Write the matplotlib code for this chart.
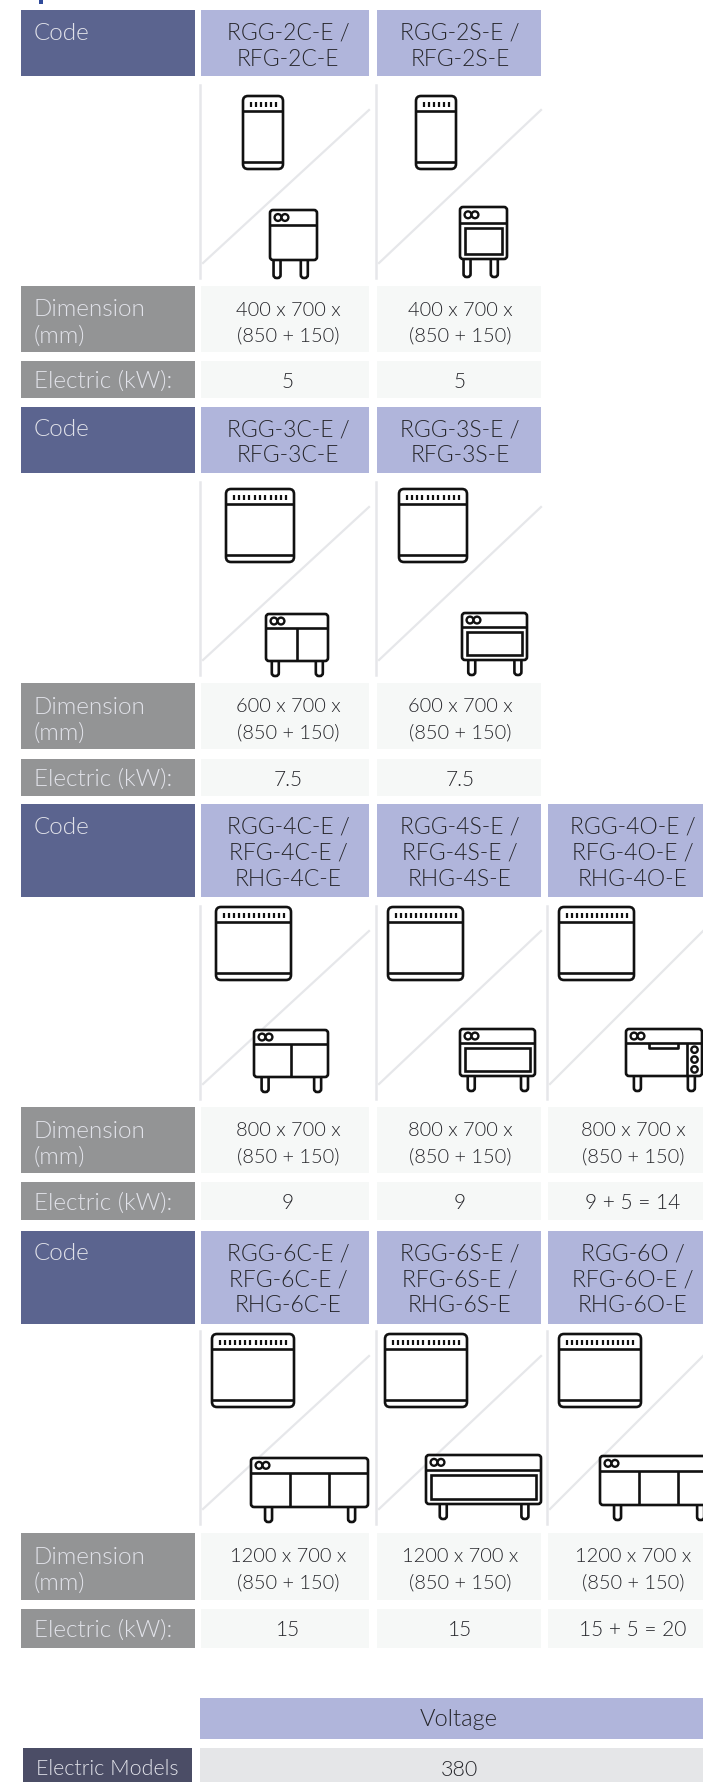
import matplotlib
matplotlib.use('Agg')
import matplotlib.pyplot as plt
from matplotlib import font_manager
from matplotlib.patches import Rectangle, FancyBboxPatch, Circle

# table contents, one list per block
codes_2 = [['RGG-2C-E /', 'RFG-2C-E'], ['RGG-2S-E /', 'RFG-2S-E']]
codes_3 = [['RGG-3C-E /', 'RFG-3C-E'], ['RGG-3S-E /', 'RFG-3S-E']]
codes_4 = [['RGG-4C-E /', 'RFG-4C-E /', 'RHG-4C-E'],
           ['RGG-4S-E /', 'RFG-4S-E /', 'RHG-4S-E'],
           ['RGG-4O-E /', 'RFG-4O-E /', 'RHG-4O-E']]
codes_6 = [['RGG-6C-E /', 'RFG-6C-E /', 'RHG-6C-E'],
           ['RGG-6S-E /', 'RFG-6S-E /', 'RHG-6S-E'],
           ['RGG-6O /', 'RFG-6O-E /', 'RHG-6O-E']]
widths = ['400', '600', '800', '1200']
electric_2 = ['5', '5']
electric_3 = ['7.5', '7.5']
electric_4 = ['9', '9', '9 + 5 = 14']
electric_6 = ['15', '15', '15 + 5 = 20']
voltage = '380'

DARK = '#5b648f'
LIGHT = '#b0b5db'
GREY = '#939495'
PALE = '#f6f8f7'
INK = '#26262b'
SOFT = '#e2e3ea'
LINE = '#e6e7ea'
STROKE = '#111111'

plt.rcParams['font.family'] = ['Lato', 'DejaVu Sans']

# weight='light' picks Lato Hairline here, so look the Light file up directly
light_files = [f.fname for f in font_manager.fontManager.ttflist
               if f.fname.endswith('Lato-Light.ttf')]


def face(size):
    if light_files:
        return font_manager.FontProperties(fname=light_files[0], size=size)
    return font_manager.FontProperties(family='Lato', size=size)


fig = plt.figure(figsize=(7.03, 17.82), dpi=100)
ax = fig.add_axes([0, 0, 1, 1])
ax.set_xlim(0, 703)
ax.set_ylim(1782, 0)
ax.axis('off')

col_x = [(201, 369), (377, 541), (548, 703)]
text_x = [288, 460, 633]


def cell(x0, x1, y0, y1, color):
    ax.add_patch(Rectangle((x0, y0), x1 - x0, y1 - y0, fc=color, ec='none', zorder=1))


def rounded(x, y, w, h, r=3, fc='white', lw=1.9, z=4):
    ax.add_patch(FancyBboxPatch((x + r, y + r), w - 2 * r, h - 2 * r,
                                boxstyle='round,pad=%g,rounding_size=%g' % (r, r),
                                fc=fc, ec=STROKE, lw=lw, zorder=z))


def stroke(xs, ys, lw=1.9, z=5):
    ax.plot(xs, ys, color=STROKE, lw=lw, zorder=z, solid_capstyle='butt')


def lines(x, y_first, rows, color, size=14.4, ha='center'):
    for i, row in enumerate(rows):
        ax.text(x, y_first + i * 26, row, color=color, ha=ha, va='center',
                fontproperties=face(size), zorder=6)


def hood(x, y, w, h=73):
    rounded(x, y, w, h, r=5)
    stroke([x, x + w], [y + 15, y + 15])
    stroke([x, x + w], [y + h - 7, y + h - 7])
    n = int(round((w - 6) / 5.5))
    for i in range(n):
        tx = x + 5 + (w - 10) * (i + 0.5) / n
        stroke([tx, tx], [y + 5.5, y + 10.5], lw=1.6)


def cabinet(x, y, w, h, kind, leg):
    for lx in (x + w * 0.15, x + w * 0.86 if w > 60 else x + w * 0.73):
        rounded(lx - 3.5, y + h - 4, 7, leg + 4, r=3, z=3)
    rounded(x, y, w, h, r=3)
    panel = y + h * 0.3
    stroke([x, x + w], [panel, panel])
    for cx in (x + 8, x + 15):
        ax.add_patch(Circle((cx, y + h * 0.15), 3.4, fc='white', ec=STROKE, lw=1.7, zorder=5))
    if kind == 'S':
        ax.add_patch(Rectangle((x + 5, panel + 5), w - 10, y + h - panel - 10, fc='white',
                               ec=STROKE, lw=1.9, zorder=5))
    elif kind == 'O':
        stroke([x + w * 0.3, x + w * 0.3, x + w * 0.68, x + w * 0.68],
               [panel, panel + 5, panel + 5, panel])
        stroke([x + w - 15, x + w - 15], [panel, y + h])
        for frac in (0.2, 0.5, 0.8):
            ax.add_patch(Circle((x + w - 7.5, panel + (y + h - panel) * frac), 3.2, fc='white',
                                ec=STROKE, lw=1.7, zorder=5))
    else:
        for frac in kind:
            stroke([x + w * frac, x + w * frac], [panel, y + h])


def icon_cell(x0, x1, y0, top, bottom):
    ax.plot([x0 - 1.5, x0 - 1.5], [y0, y0 + 193], color=LINE, lw=1.8, zorder=2)
    ax.plot([x0 + 2, x1], [y0 + 178, y0 + 25], color=LINE, lw=1.6, zorder=2)
    hood(x0 + top[0], y0 + top[1], top[2])
    cabinet(x0 + bottom[0], y0 + bottom[1], bottom[2], bottom[3], bottom[4], bottom[5])


# vertical layout of each block: header, icons, dimension row, electric row
blocks = [
    (codes_2, widths[0], electric_2, (10, 76), 85, (286, 352), (361, 398)),
    (codes_3, widths[1], electric_3, (407, 473), 482, (683, 749), (759, 796)),
    (codes_4, widths[2], electric_4, (804, 897), 906, (1107, 1173), (1182, 1220)),
    (codes_6, widths[3], electric_6, (1231, 1324), 1331, (1533, 1600), (1609, 1648)),
]
# hood (dx, dy, w) and cabinet (dx, dy, w, h, kind, leg) for each column
top_icons = [
    [(42, 11, 40), (39, 11, 40)],
    [(25, 7, 68), (22, 7, 68)],
    [(15, 1, 75), (11, 1, 75), (11, 1, 75)],
    [(11, 3, 82), (8, 3, 82), (11, 3, 82)],
]
bottom_icons = [
    [(69, 125, 47, 50, [], 18), (83, 122, 47, 52, 'S', 18)],
    [(65, 132, 62, 47, [0.5], 15), (85, 131, 65, 47, 'S', 15)],
    [(53, 124, 74, 47, [0.5], 15), (83, 123, 75, 47, 'S', 15), (78, 123, 76, 47, 'O', 15)],
    [(50, 127, 117, 49, [0.33, 0.67], 15), (49, 124, 115, 49, 'S', 15), (52, 125, 117, 49, [0.33, 0.67], 15)],
]

# clipped piece of the page title above the table
ax.add_patch(Rectangle((39, 0), 4, 3.5, fc='#2f4a9a', ec='none'))

for b, (codes, width, electric, head, icons, dim, elec) in enumerate(blocks):
    cell(21, 195, head[0], head[1], DARK)
    lines(34, head[0] + 23, ['Code'], SOFT, size=17.5, ha='left')
    cell(21, 195, dim[0], dim[1], GREY)
    lines(34, dim[0] + 24, ['Dimension', '(mm)'], SOFT, size=17.5, ha='left')
    cell(21, 195, elec[0], elec[1], GREY)
    lines(34, sum(elec) / 2 + 2, ['Electric (kW):'], SOFT, size=17.5, ha='left')
    for c in range(len(codes)):
        x0, x1 = col_x[c]
        cell(x0, x1, head[0], head[1], LIGHT)
        lines(text_x[c], head[0] + 23, codes[c], INK, size=16.5)
        icon_cell(x0, x1, icons, top_icons[b][c], bottom_icons[b][c])
        cell(x0, x1, dim[0], dim[1], PALE)
        lines(text_x[c], dim[0] + 24, [width + ' x 700 x', '(850 + 150)'], INK)
        cell(x0, x1, elec[0], elec[1], PALE)
        lines(text_x[c], sum(elec) / 2 + 2, [electric[c]], INK, size=15)

cell(200, 703, 1698, 1739, LIGHT)
lines(459, 1719, ['Voltage'], INK, size=17)
cell(23, 192, 1748, 1782, '#4b4d66')
lines(107, 1769, ['Electric Models'], SOFT, size=15.5)
cell(200, 703, 1748, 1782, '#e5e6e8')
lines(459, 1770, [voltage], INK, size=15.5)

fig.savefig('out.png', dpi=100)
